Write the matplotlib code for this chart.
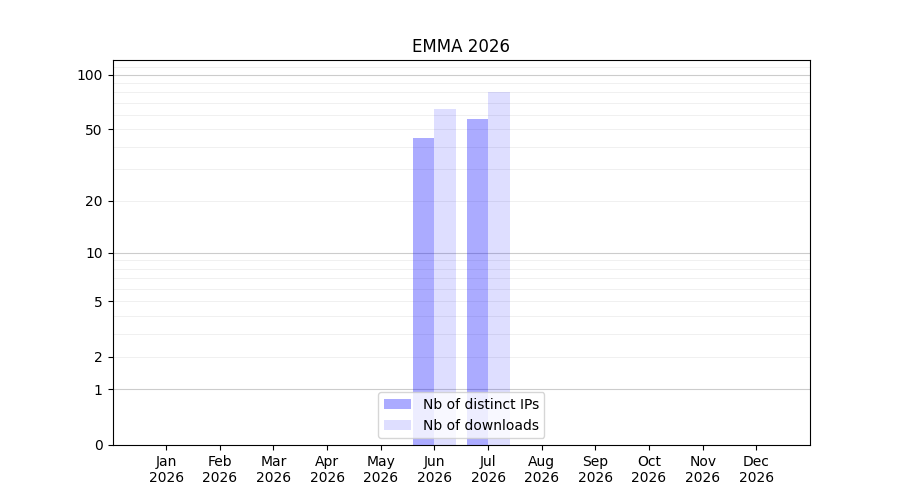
import numpy as np
import matplotlib
matplotlib.use("Agg")
import matplotlib.pyplot as plt
from matplotlib.ticker import FixedLocator

months = ["Jan", "Feb", "Mar", "Apr", "May", "Jun", "Jul", "Aug", "Sep", "Oct", "Nov", "Dec"]
year = "2026"
distinct_ips = [0, 0, 0, 0, 0, 45, 57, 0, 0, 0, 0, 0]
downloads = [0, 0, 0, 0, 0, 65, 80, 0, 0, 0, 0, 0]

def fwd(v):
    return np.log10(1 + np.clip(v, 0, None))

def inv(v):
    return 10 ** v - 1

fig, ax = plt.subplots(figsize=(9, 5), dpi=100)
x = np.arange(len(months))
ax.bar(x, distinct_ips, width=0.4, align="edge", color="blue", alpha=0.33,
       label="Nb of distinct IPs", zorder=3)
ax.bar(x + 0.4, downloads, width=0.4, align="edge", color="blue", alpha=0.13,
       label="Nb of downloads", zorder=3)
# shift so the pair straddles the month tick
for p in ax.patches:
    p.set_x(p.get_x() - 0.4)

ax.set_yscale("function", functions=(fwd, inv))
ax.set_ylim(0, 120)
ax.set_xlim(-1, 12)
ax.yaxis.set_major_locator(FixedLocator([0, 1, 2, 5, 10, 20, 50, 100]))
ax.set_yticklabels(["0", "1", "2", "5", "10", "20", "50", "100"])
ax.yaxis.set_minor_locator(FixedLocator([]))

for v in [1, 10, 100]:
    ax.axhline(v, color="#cccccc", lw=0.8, zorder=1)
minor = [v * d for v in [1, 10] for d in range(2, 10)] + [110, 120]
for v in minor:
    ax.axhline(v, color="#eeeeee", lw=0.6, zorder=1)

ax.set_xticks(x)
ax.set_xticklabels([f"{m}\n{year}" for m in months])
ax.set_title("EMMA 2026")
ax.legend(loc="lower center")
fig.savefig("out.png")
